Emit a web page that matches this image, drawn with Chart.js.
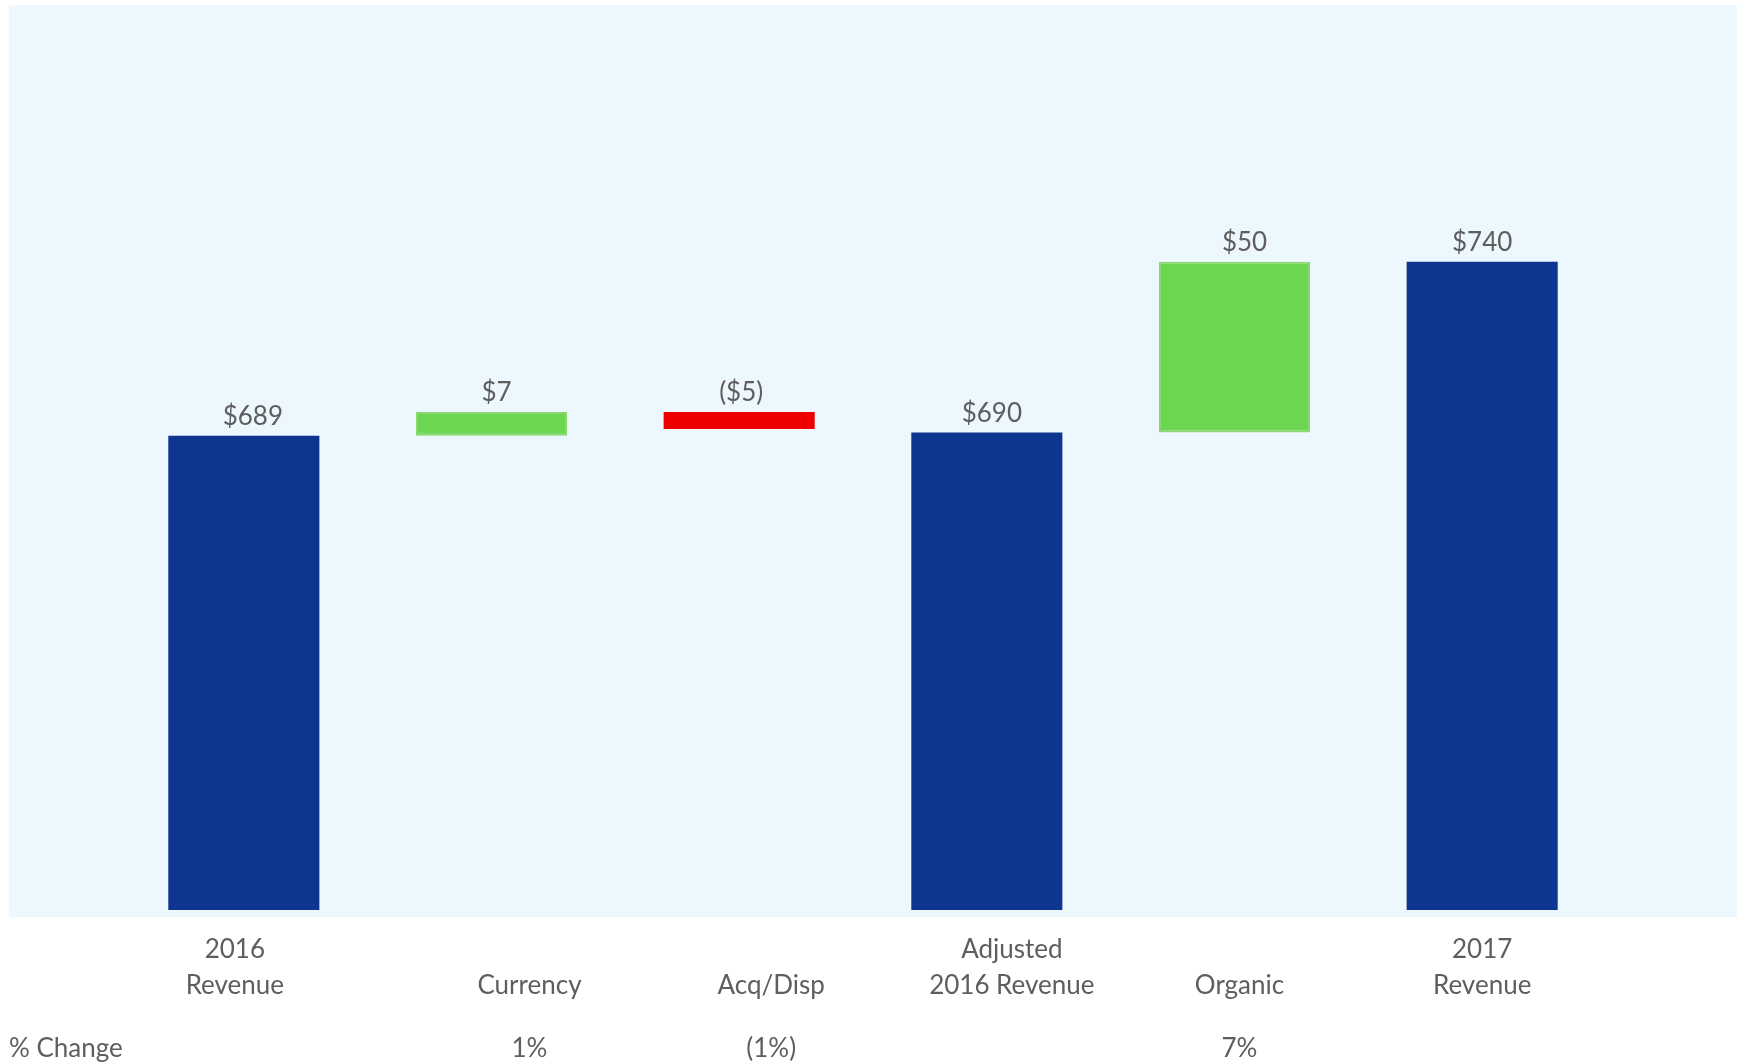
<!DOCTYPE html>
<html>
<head>
<meta charset="utf-8">
<title>Revenue bridge 2016 to 2017</title>
<script src="https://cdn.jsdelivr.net/npm/chart.js@4.4.1/dist/chart.umd.min.js"></script>
<style>
  body { margin: 0; background: #ffffff; }
  #wrap { width: 1741px; height: 1063px; }
</style>
</head>
<body>
<div id="wrap"><canvas id="myChart" width="1741" height="1063"></canvas></div>
<script>
// chart data
const categories = [['2016', 'Revenue'], ['Currency'], ['Acq/Disp'], ['Adjusted', '2016 Revenue'], ['Organic'], ['2017', 'Revenue']];
const amounts = [689, 7, -5, 690, 50, 740];
const kinds = ['total', 'delta', 'delta', 'total', 'delta', 'total'];
const valueLabels = ['$689', '$7', '($5)', '$690', '$50', '$740'];
const pctChange = ['', '1%', '(1%)', '', '7%', ''];
const pctTitle = '% Change';

// build the floating bars for the waterfall
let running = 0;
let barData = [];
for (let i = 0; i < amounts.length; i++) {
  if (kinds[i] == 'total') {
    running = amounts[i];
    barData.push(amounts[i]);
  } else {
    barData.push([running, running + amounts[i]]);
    running = running + amounts[i];
  }
}

const BLUE = '#0E358F';
const GREEN = '#6CD652';
const RED = '#EE0000';
const TEXT = '#5e5e5e';
const FONT = '26px Lato';

function barColor(i) {
  if (kinds[i] == 'total') return BLUE;
  return amounts[i] >= 0 ? GREEN : RED;
}

// light blue plot panel behind the bars
const panelPlugin = {
  id: 'panel',
  beforeDraw(chart) {
    let {ctx, chartArea} = chart;
    ctx.save();
    ctx.fillStyle = '#EDF8FE';
    ctx.fillRect(chartArea.left - 111, chartArea.top - 1, chartArea.right - chartArea.left + 242, chartArea.bottom - chartArea.top + 8);
    ctx.restore();
  }
};

// value labels above bars, category names and % change row below
const labelPlugin = {
  id: 'labels',
  afterDatasetsDraw(chart) {
    let {ctx, chartArea} = chart;
    let xScale = chart.scales.x;
    let meta = chart.getDatasetMeta(0);
    // the slide had its text boxes a little off centre
    let nudge = [-9, 38, 32, 25, 5, 0];
    let valueNudge = [9, 5, 2, 5, 10, 0];
    ctx.save();
    ctx.font = FONT;
    ctx.fillStyle = TEXT;
    ctx.textAlign = 'center';
    ctx.textBaseline = 'middle';

    meta.data.forEach((bar, i) => {
      let top = Math.min(bar.y, bar.base);
      ctx.fillText(valueLabels[i], bar.x + valueNudge[i], top - 19);
    });

    for (let i = 0; i < categories.length; i++) {
      let x = xScale.getPixelForValue(i) + nudge[i];
      let lines = categories[i];
      let first = 2 - lines.length;
      lines.forEach((line, j) => {
        ctx.fillText(line, x, chartArea.bottom + 40 + (first + j) * 36);
      });
      if (pctChange[i] != '') {
        ctx.fillText(pctChange[i], x, chartArea.bottom + 139);
      }
    }

    ctx.textAlign = 'left';
    ctx.fillText(pctTitle, 9, chartArea.bottom + 139);
    ctx.restore();
  }
};

let ctx = document.getElementById('myChart').getContext('2d');
let myChart = new Chart(ctx, {
  type: 'bar',
  data: {
    labels: categories,
    datasets: [{
      data: barData,
      backgroundColor: categories.map((c, i) => barColor(i)),
      borderColor: categories.map((c, i) => kinds[i] == 'delta' && amounts[i] >= 0 ? '#8BD76F' : barColor(i)),
      borderWidth: categories.map((c, i) => kinds[i] == 'delta' && amounts[i] >= 0 ? 2 : 0),
      borderSkipped: false,
      categoryPercentage: 1.0,
      barPercentage: 0.61
    }]
  },
  options: {
    responsive: false,
    animation: false,
    layout: {
      padding: { left: 120, right: 135, top: 6, bottom: 153 }
    },
    plugins: {
      legend: { display: false },
      tooltip: { enabled: false }
    },
    scales: {
      x: { display: false, grid: { display: false } },
      y: { display: false, min: 550, max: 815, grid: { display: false } }
    }
  },
  plugins: [panelPlugin, labelPlugin]
});
</script>
</body>
</html>
